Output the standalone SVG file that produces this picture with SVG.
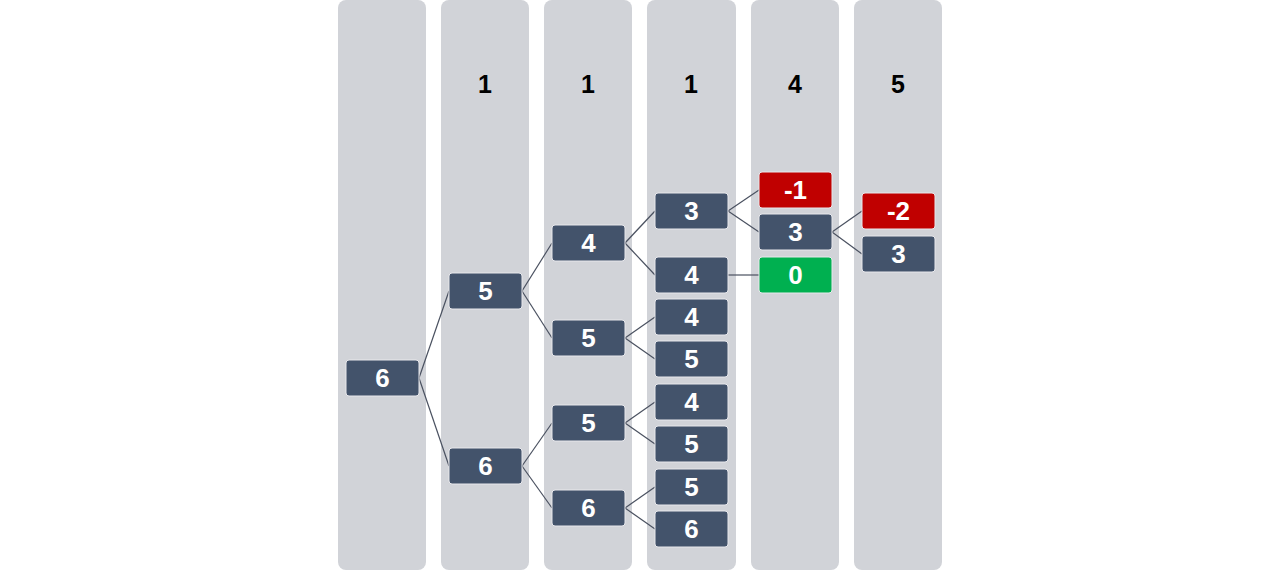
<svg xmlns="http://www.w3.org/2000/svg" width="1280" height="570" viewBox="0 0 1280 570">
<style>
.col{fill:#d1d3d8}
.hd{font-family:"Liberation Sans",Arial,sans-serif;font-weight:bold;font-size:25px;fill:#000;text-anchor:middle}
.n rect{fill:#43536b;stroke:#e8e8ec;stroke-width:1}
.n.r rect{fill:#c00000}
.n.g rect{fill:#00b050}
.n text{font-family:"Liberation Sans",Arial,sans-serif;font-weight:bold;font-size:26px;fill:#fff;text-anchor:middle}
.c line{stroke:#4a5160;stroke-width:1.2}
</style>
<rect width="1280" height="570" fill="#fff"/>
<g id="columns">
<rect class="col" x="338" y="0" width="88" height="570" rx="8"/>
<rect class="col" x="441" y="0" width="88" height="570" rx="8"/>
<rect class="col" x="544" y="0" width="88" height="570" rx="8"/>
<rect class="col" x="647" y="0" width="89" height="570" rx="8"/>
<rect class="col" x="751" y="0" width="88" height="570" rx="8"/>
<rect class="col" x="854" y="0" width="88" height="570" rx="8"/>
</g>
<g id="headers">
<text class="hd" x="485" y="93">1</text>
<text class="hd" x="588" y="93">1</text>
<text class="hd" x="691" y="93">1</text>
<text class="hd" x="795" y="93">4</text>
<text class="hd" x="898" y="93">5</text>
</g>
<g id="connectors" class="c">
<line x1="419" y1="378" x2="449" y2="291"/>
<line x1="419" y1="378" x2="449" y2="466"/>
<line x1="522" y1="291" x2="552" y2="243"/>
<line x1="522" y1="291" x2="552" y2="338"/>
<line x1="522" y1="466" x2="552" y2="423"/>
<line x1="522" y1="466" x2="552" y2="508"/>
<line x1="625" y1="243" x2="655" y2="211"/>
<line x1="625" y1="243" x2="655" y2="275"/>
<line x1="625" y1="338" x2="655" y2="317"/>
<line x1="625" y1="338" x2="655" y2="359"/>
<line x1="625" y1="423" x2="655" y2="402"/>
<line x1="625" y1="423" x2="655" y2="444"/>
<line x1="625" y1="508" x2="655" y2="487"/>
<line x1="625" y1="508" x2="655" y2="529"/>
<line x1="728" y1="211" x2="759" y2="190"/>
<line x1="728" y1="211" x2="759" y2="232"/>
<line x1="728" y1="275" x2="759" y2="275"/>
<line x1="832" y1="232" x2="862" y2="211"/>
<line x1="832" y1="232" x2="862" y2="254"/>
</g>
<g id="n1" class="n"><rect x="346" y="360" width="73" height="36" rx="3"/><text x="382.5" y="387">6</text></g>
<g id="n2a" class="n"><rect x="449" y="273" width="73" height="36" rx="3"/><text x="485.5" y="300">5</text></g>
<g id="n2b" class="n"><rect x="449" y="448" width="73" height="36" rx="3"/><text x="485.5" y="475">6</text></g>
<g id="n3a" class="n"><rect x="552" y="225" width="73" height="36" rx="3"/><text x="588.5" y="252">4</text></g>
<g id="n3b" class="n"><rect x="552" y="320" width="73" height="36" rx="3"/><text x="588.5" y="347">5</text></g>
<g id="n3c" class="n"><rect x="552" y="405" width="73" height="36" rx="3"/><text x="588.5" y="432">5</text></g>
<g id="n3d" class="n"><rect x="552" y="490" width="73" height="36" rx="3"/><text x="588.5" y="517">6</text></g>
<g id="n4a" class="n"><rect x="655" y="193" width="73" height="36" rx="3"/><text x="691.5" y="220">3</text></g>
<g id="n4b" class="n"><rect x="655" y="257" width="73" height="36" rx="3"/><text x="691.5" y="284">4</text></g>
<g id="n4c" class="n"><rect x="655" y="299" width="73" height="36" rx="3"/><text x="691.5" y="326">4</text></g>
<g id="n4d" class="n"><rect x="655" y="341" width="73" height="36" rx="3"/><text x="691.5" y="368">5</text></g>
<g id="n4e" class="n"><rect x="655" y="384" width="73" height="36" rx="3"/><text x="691.5" y="411">4</text></g>
<g id="n4f" class="n"><rect x="655" y="426" width="73" height="36" rx="3"/><text x="691.5" y="453">5</text></g>
<g id="n4g" class="n"><rect x="655" y="469" width="73" height="36" rx="3"/><text x="691.5" y="496">5</text></g>
<g id="n4h" class="n"><rect x="655" y="511" width="73" height="36" rx="3"/><text x="691.5" y="538">6</text></g>
<g id="n5a" class="n r"><rect x="759" y="172" width="73" height="36" rx="3"/><text x="795.5" y="199">-1</text></g>
<g id="n5b" class="n"><rect x="759" y="214" width="73" height="36" rx="3"/><text x="795.5" y="241">3</text></g>
<g id="n5c" class="n g"><rect x="759" y="257" width="73" height="36" rx="3"/><text x="795.5" y="284">0</text></g>
<g id="n6a" class="n r"><rect x="862" y="193" width="73" height="36" rx="3"/><text x="898.5" y="220">-2</text></g>
<g id="n6b" class="n"><rect x="862" y="236" width="73" height="36" rx="3"/><text x="898.5" y="263">3</text></g>
</svg>
